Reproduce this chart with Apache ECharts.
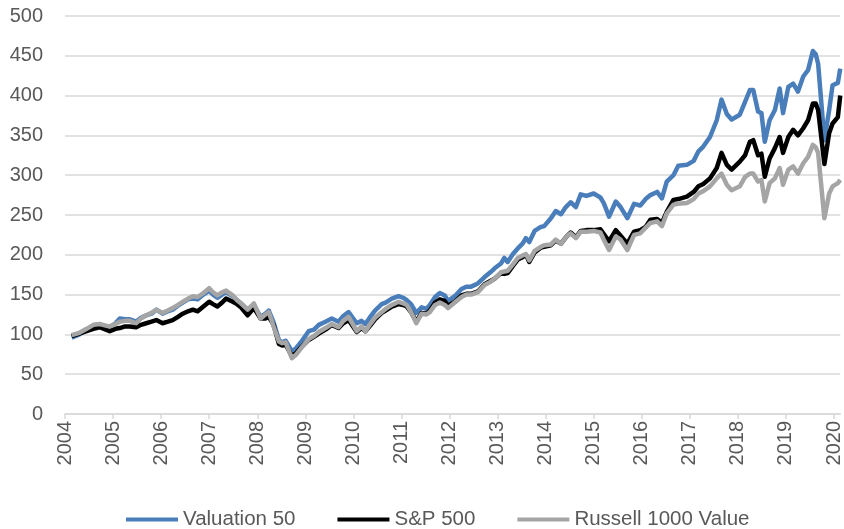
<!DOCTYPE html>
<html>
<head>
<meta charset="utf-8">
<script src="https://cdn.jsdelivr.net/npm/echarts@6/dist/echarts.min.js"></script>
<style>
html,body{margin:0;padding:0;background:#fff;}
#chart{width:844px;height:529px;}
</style>
</head>
<body>
<div id="chart"></div>
<script>
// Decimal-year positions of the observations
const dates = [
  2004.14, 2004.30, 2004.45, 2004.59, 2004.72, 2004.85, 2004.93,
  2005.05, 2005.14, 2005.25, 2005.35, 2005.48, 2005.58, 2005.69, 2005.80, 2005.90,
  2006.03, 2006.14, 2006.24, 2006.35, 2006.45, 2006.56, 2006.66, 2006.76, 2006.88,
  2007.00, 2007.08, 2007.17, 2007.27, 2007.35, 2007.49, 2007.58, 2007.66, 2007.80, 2007.93,
  2008.07, 2008.17, 2008.24, 2008.34, 2008.45, 2008.52, 2008.59, 2008.72, 2008.80, 2008.93,
  2009.07, 2009.18, 2009.28, 2009.42, 2009.55, 2009.69, 2009.79, 2009.90,
  2010.07, 2010.17, 2010.25, 2010.35, 2010.45, 2010.59, 2010.67, 2010.80, 2010.94,
  2011.04, 2011.11, 2011.20, 2011.31, 2011.42, 2011.52, 2011.59, 2011.70, 2011.80, 2011.90, 2011.97,
  2012.11, 2012.25, 2012.35, 2012.45, 2012.59, 2012.73, 2012.85, 2012.94,
  2013.07, 2013.14, 2013.21, 2013.32, 2013.42, 2013.52, 2013.59, 2013.66, 2013.77, 2013.90, 2013.97,
  2014.11, 2014.21, 2014.32, 2014.42, 2014.52, 2014.63, 2014.73, 2014.85,
  2015.00, 2015.14, 2015.21, 2015.32, 2015.46, 2015.56, 2015.70, 2015.84, 2015.97,
  2016.08, 2016.18, 2016.32, 2016.42, 2016.52, 2016.66, 2016.76, 2016.94,
  2017.08, 2017.18, 2017.28, 2017.42, 2017.56, 2017.66, 2017.77, 2017.87,
  2018.04, 2018.15, 2018.25, 2018.32, 2018.42, 2018.49, 2018.56, 2018.66, 2018.77, 2018.87, 2018.94,
  2019.05, 2019.15, 2019.25, 2019.36, 2019.46, 2019.56, 2019.62, 2019.67, 2019.80, 2019.90, 2019.97,
  2020.08, 2020.13
];

const valuation50 = [
  96,100,106,111,112,110,109,
  114,120,119,119,116,121,124,126,131,
  126,129,131,136,140,144,145,144,150,
  155,150,146,150,153,148,143,139,131,137,
  122,126,130,115,93,90,92,79,82,92,
  104,106,112,116,120,116,123,128,
  114,117,113,122,130,138,140,145,148,
  146,143,138,127,134,132,137,147,152,149,142,
  148,157,160,160,164,172,178,183,
  189,196,191,201,208,214,221,216,230,235,236,
  246,255,251,260,266,260,276,274,
  277,272,265,248,267,260,246,264,262,
  270,275,279,271,292,300,312,313,
  318,330,336,348,369,395,377,370,
  376,392,407,407,380,378,342,369,382,409,378,
  411,415,405,424,432,456,452,440,344,382,413,
  416,434
];

const sp500 = [
  98,101,104,107,109,106,104,
  107,108,110,110,109,112,114,116,118,
  114,116,118,122,126,129,131,129,135,
  141,138,135,140,145,141,138,134,124,133,
  120,120,122,112,88,86,87,73,76,85,
  93,97,101,106,112,108,114,118,
  103,108,104,111,119,127,130,135,138,
  137,135,128,116,127,126,130,140,144,142,136,
  141,149,151,151,154,163,167,170,
  177,176,177,186,194,197,200,191,203,209,210,
  212,218,214,222,228,222,230,231,
  231,232,226,217,231,224,214,229,231,
  235,244,245,240,254,269,270,273,
  279,286,289,296,309,328,313,307,
  317,325,342,344,325,327,298,321,334,348,328,
  348,357,350,359,369,390,390,382,314,353,365,
  373,400
];

const russell1000Value = [
  99,102,107,112,113,111,110,
  113,116,117,117,114,120,124,127,131,
  127,130,133,137,141,145,148,147,152,
  158,153,149,153,155,149,143,139,131,139,
  120,125,128,110,91,89,90,70,74,84,
  94,98,103,108,113,109,117,122,
  104,110,104,113,121,128,132,137,141,
  139,137,128,114,126,125,128,137,140,137,133,
  140,147,150,150,153,162,166,170,
  178,179,180,188,196,199,201,193,205,210,212,
  213,219,214,222,227,221,229,229,
  230,228,219,206,223,219,206,225,227,
  234,240,242,236,252,263,264,265,
  270,277,280,286,296,302,288,281,
  286,298,302,302,292,294,267,290,296,309,288,
  307,311,302,315,323,338,335,328,246,277,286,
  290,294
];

const seriesNames = ['Valuation 50', 'S&P 500', 'Russell 1000 Value'];
const seriesColors = ['#4A7EBB', '#000000', '#A5A5A5'];
const seriesValues = [valuation50, sp500, russell1000Value];

const FONT = '"Liberation Sans", Arial, sans-serif';
const chart = echarts.init(document.getElementById('chart'), null, {renderer: 'canvas'});

chart.setOption({
  animation: false,
  backgroundColor: '#ffffff',
  grid: {left: 65, right: 0, top: 16, bottom: 115, containLabel: false},
  legend: {
    data: seriesNames,
    left: 121,
    top: 504,
    itemWidth: 52,
    itemHeight: 4,
    itemGap: 42,
    icon: 'rect',
    textStyle: {color: '#595959', fontSize: 20.5, fontFamily: FONT}
  },
  xAxis: {
    type: 'value',
    min: 2004,
    max: 2020.13,
    interval: 1,
    splitLine: {show: false},
    axisLine: {show: true, lineStyle: {color: '#D9D9D9', width: 1.5}},
    axisTick: {show: true, length: 5, lineStyle: {color: '#D9D9D9', width: 1.5}},
    axisLabel: {
      rotate: 90,
      margin: 7,
      color: '#595959',
      fontSize: 20,
      fontFamily: FONT,
      showMaxLabel: false,
      formatter: v => Number.isInteger(v) ? String(v) : ''
    }
  },
  yAxis: {
    type: 'value',
    min: 0,
    max: 500,
    interval: 50,
    axisLine: {show: false},
    axisTick: {show: false},
    splitLine: {lineStyle: {color: '#D9D9D9', width: 1.5}},
    axisLabel: {color: '#595959', fontSize: 20, fontFamily: FONT, margin: 22}
  },
  series: seriesNames.map((name, k) => ({
    name: name,
    type: 'line',
    symbol: 'none',
    color: seriesColors[k],
    lineStyle: {width: 4.5, color: seriesColors[k], join: 'round'},
    data: dates.map((d, i) => [d, seriesValues[k][i]])
  }))
});
</script>
</body>
</html>
